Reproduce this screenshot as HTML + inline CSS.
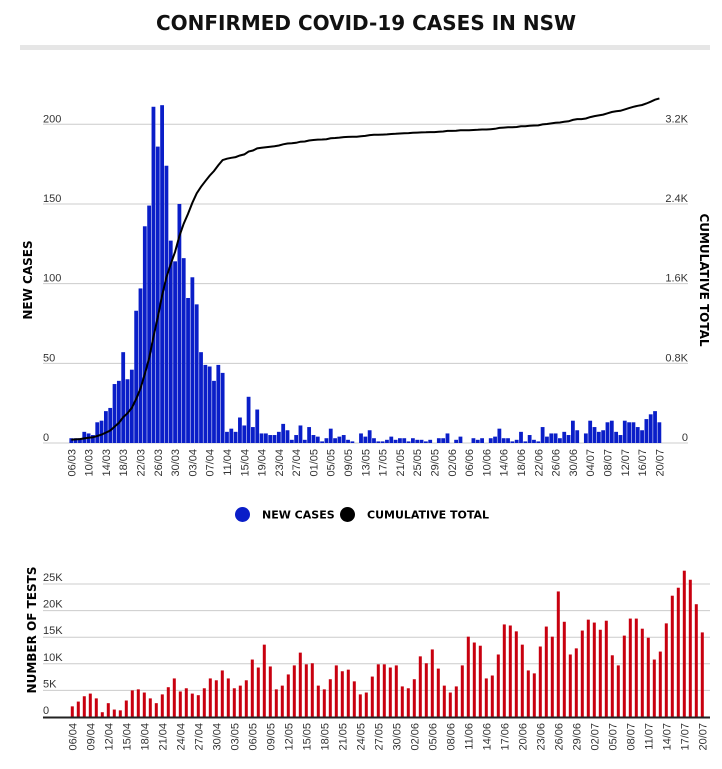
<!DOCTYPE html>
<html><head><meta charset="utf-8">
<style>
html,body{margin:0;padding:0;background:#fff;}
svg{display:block;font-family:"Liberation Sans","DejaVu Sans",sans-serif;}
</style></head>
<body>
<svg id="s" width="722" height="769" viewBox="0 0 722 769" xmlns="http://www.w3.org/2000/svg">
<text x="366" y="30" text-anchor="middle" font-size="20" font-weight="bold" fill="#111" font-family="DejaVu Sans, sans-serif">CONFIRMED COVID-19 CASES IN NSW</text>
<rect x="20" y="45" width="690" height="5" fill="#e6e6e6"/>
<g id="gtop"></g>
<g id="gbot"></g>
<text transform="translate(32,280) rotate(-90)" text-anchor="middle" font-size="12" font-weight="bold" font-family="DejaVu Sans, sans-serif">NEW CASES</text>
<text transform="translate(700,280) rotate(90)" text-anchor="middle" font-size="12" font-weight="bold" font-family="DejaVu Sans, sans-serif">CUMULATIVE TOTAL</text>
<text transform="translate(36,630) rotate(-90)" text-anchor="middle" font-size="12" font-weight="bold" font-family="DejaVu Sans, sans-serif">NUMBER OF TESTS</text>
<circle cx="242.5" cy="514.5" r="7.5" fill="#0a1ec8"/>
<text x="262" y="518.5" font-size="11" font-weight="bold" font-family="DejaVu Sans, sans-serif">NEW CASES</text>
<circle cx="347.5" cy="514.5" r="7.5" fill="#000"/>
<text x="367" y="518.5" font-size="11" font-weight="bold" font-family="DejaVu Sans, sans-serif">CUMULATIVE TOTAL</text>
</svg>
<script>
(function(){
var NS="http://www.w3.org/2000/svg";
function el(p,t,a,txt){var e=document.createElementNS(NS,t);for(var k in a)e.setAttribute(k,a[k]);if(txt!=null)e.textContent=txt;p.appendChild(e);return e;}
var gT=document.getElementById('gtop'),gB=document.getElementById('gbot');
var cases=[3,3,3,7,6,5,13,14,20,22,37,39,57,40,46,83,97,136,149,211,186,212,174,127,114,150,
116,91,104,87,57,49,48,39,49,44,7,9,7,16,11,29,10,21,6,6,5,5,7,12,8,2,5,
11,2,10,5,4,1,3,9,3,4,5,2,1,0,6,4,8,3,1,1,2,4,2,3,3,1,3,2,2,1,2,
0,3,3,6,0,2,4,0,0,3,2,3,0,3,4,9,3,3,1,2,7,1,5,2,1,10,4,6,6,3,7,5,14,8,0,6,14,10,7,8,13,14,7,5,14,13,13,10,8,15,18,20,13];
var y0=443,yk=(443-124.3)/200;
var x0=71.3,dx=4.324;
[0,50,100,150,200].forEach(function(v,i){var y=y0-v*yk;
 el(gT,'line',{x1:43,x2:688,y1:y,y2:y,stroke:'#cccccc','stroke-width':1});
 el(gT,'text',{x:43,y:y-2,'font-size':11,fill:'#333'},v);
 el(gT,'text',{x:688,y:y-2,'font-size':11,fill:'#333','text-anchor':'end'},['0','0.8K','1.6K','2.4K','3.2K'][i]);
});
function fmt(d){var dt=new Date(2020,2,6+d);var dd=('0'+dt.getDate()).slice(-2),mm=('0'+(dt.getMonth()+1)).slice(-2);return dd+'/'+mm;}
var cum=30,pts=[];
for(var i=0;i<cases.length;i++){var x=x0+dx*i,h=cases[i]*yk;
 if(h>0)el(gT,'rect',{x:x-1.9,y:y0-h,width:3.8,height:h,fill:'#0a1ec8'});
 cum+=cases[i]; if(i>=14&&i<=36)cum+=180/23;
 pts.push(x.toFixed(1)+','+(y0-cum*(318.7/3200)).toFixed(1));
}
el(gT,'polyline',{points:pts.join(' '),fill:'none',stroke:'#000','stroke-width':2});
for(var d=0;d<=136;d+=4){var x=x0+dx*d;
 el(gT,'text',{transform:'translate('+(x+4)+',449) rotate(-90)','text-anchor':'end','font-size':11,fill:'#333'},fmt(d));}
var tests=[2.0,2.9,3.9,4.4,3.5,0.9,2.6,1.4,1.25,3.1,5.0,5.2,4.6,3.5,2.6,4.25,5.6,7.25,4.8,5.4,4.4,4.1,5.4,7.25,6.9,
8.75,7.25,5.4,5.9,6.9,10.8,9.3,13.6,9.5,5.2,5.9,8.0,9.7,12.1,9.9,10.1,5.9,5.2,7.1,9.7,8.6,8.9,6.7,4.25,4.6,7.6,9.9,
9.9,9.3,9.7,5.75,5.4,7.1,11.4,10.1,12.7,9.1,5.9,4.6,5.75,9.7,15.1,14.0,13.4,7.25,7.8,11.75,17.4,17.2,16.1,13.6,8.75,8.2,13.25,17.0,15.1,23.6,17.9,11.75,12.9,16.25,
18.3,17.75,16.4,18.1,11.6,9.7,15.3,18.5,18.5,16.6,14.9,10.8,12.3,17.6,22.8,24.3,27.5,25.8,21.2,15.9];
var b0=717,bk=(717-584)/25;
[0,5,10,15,20,25].forEach(function(v){var y=b0-v*bk;
 if(v>0)el(gB,'line',{x1:43,x2:710,y1:y,y2:y,stroke:'#cccccc','stroke-width':1});
 el(gB,'text',{x:43,y:y-3,'font-size':11,fill:'#333'},v?v+'K':'0');});
var bx0=72.3,bdx=6;
for(var i=0;i<tests.length;i++){var x=bx0+bdx*i,h=tests[i]*bk;
 el(gB,'rect',{x:x-1.5,y:b0-h,width:3,height:h,fill:'#c8000f'});}
el(gB,'line',{x1:43,x2:710,y1:b0+0.5,y2:b0+0.5,stroke:'#222','stroke-width':2});
for(var d=0;d<tests.length;d+=3){var x=bx0+bdx*d;
 var dt=new Date(2020,3,6+d);var s=('0'+dt.getDate()).slice(-2)+'/'+('0'+(dt.getMonth()+1)).slice(-2);
 el(gB,'text',{transform:'translate('+(x+4)+',723) rotate(-90)','text-anchor':'end','font-size':11,fill:'#333'},s);}
})();
</script>
</body></html>
